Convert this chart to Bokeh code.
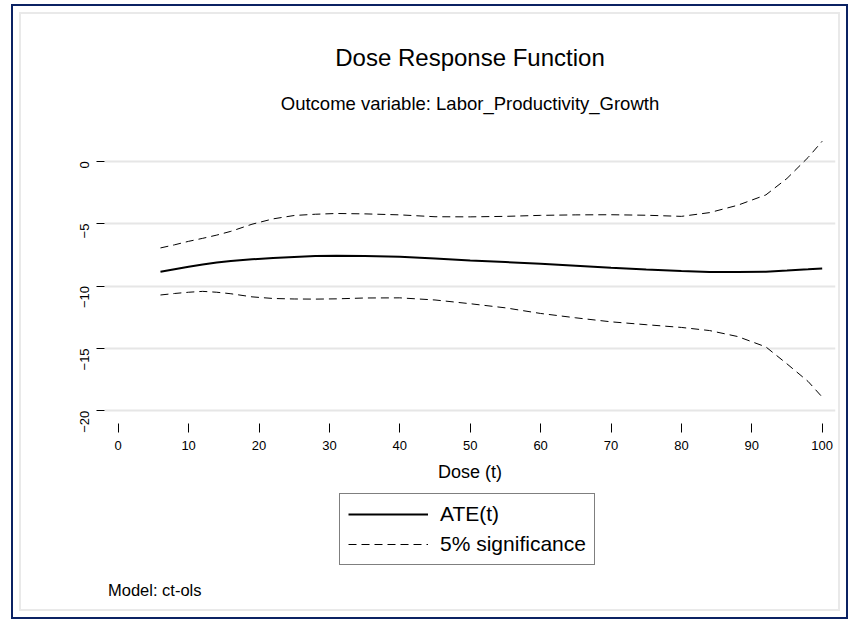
import math
from bokeh.plotting import figure
from bokeh.models import Range1d, Legend, LegendItem, FixedTicker, Label
from bokeh.embed import file_html
from bokeh.resources import INLINE

# ---- data ----
dose = [6, 8, 10, 12, 14, 16, 19, 22, 25, 28, 31, 35, 40, 45, 50, 55, 60, 65, 70, 75, 80, 84, 88, 92, 95, 98, 100]
ate = [-8.86, -8.65, -8.45, -8.27, -8.12, -8.00, -7.86, -7.75, -7.67, -7.60, -7.58, -7.60, -7.66, -7.80, -7.96,
       -8.08, -8.22, -8.38, -8.54, -8.68, -8.80, -8.87, -8.88, -8.85, -8.76, -8.66, -8.59]
upper = [-6.95, -6.70, -6.42, -6.18, -5.92, -5.62, -5.05, -4.62, -4.35, -4.25, -4.19, -4.22, -4.30, -4.45, -4.46,
         -4.42, -4.34, -4.30, -4.29, -4.33, -4.42, -4.12, -3.53, -2.70, -1.38, 0.30, 1.60]
lower = [-10.72, -10.60, -10.50, -10.43, -10.50, -10.62, -10.87, -11.00, -11.04, -11.05, -11.03, -10.96, -10.95,
         -11.12, -11.42, -11.75, -12.20, -12.55, -12.87, -13.10, -13.32, -13.57, -14.05, -14.88, -16.24, -17.65, -18.90]
x_ticks = [0, 10, 20, 30, 40, 50, 60, 70, 80, 90, 100]
y_ticks = [-20, -15, -10, -5, 0]

title_text = "Dose Response Function"
subtitle_text = "Outcome variable: Labor_Productivity_Growth"
x_label = "Dose (t)"
legend_labels = ["ATE(t)", "5% significance"]
note_text = "Model: ct-ols"

FONT = "Liberation Sans"
W, H = 837, 615

p = figure(width=W, height=H,
           x_range=Range1d(-1.95, 101.89), y_range=Range1d(-36.883, 12.396),
           output_backend="svg", toolbar_location=None,
           min_border_left=91, min_border_right=15, min_border_top=0, min_border_bottom=0,
           background_fill_alpha=0, border_fill_alpha=0, outline_line_color=None,
           styles={"position": "absolute", "left": "11px", "top": "4px", "overflow": "hidden",
                   "border": "2px solid #0b2263", "background-color": "white",
                   "box-shadow": "inset 0 0 0 6px white, inset 0 0 0 8px #e9e9e9"})

# axes (x axis pinned at the bottom of the plot region)
p.xaxis.ticker = FixedTicker(ticks=x_ticks)
p.yaxis.ticker = FixedTicker(ticks=y_ticks)
p.xaxis.fixed_location = -21.018
for ax in (p.xaxis[0], p.yaxis[0]):
    ax.axis_line_color = None
    ax.major_tick_line_color = "black"
    ax.major_tick_line_width = 1
    ax.major_tick_in = 0
    ax.minor_tick_line_color = None
    ax.major_label_text_font = FONT
    ax.major_label_text_font_size = "13px"
    ax.major_label_text_color = "black"
p.xaxis.major_tick_out = 9
p.xaxis.major_label_standoff = 8
p.xaxis.axis_label = x_label
p.xaxis.axis_label_text_font = FONT
p.xaxis.axis_label_text_font_size = "18px"
p.xaxis.axis_label_text_font_style = "normal"
p.xaxis.axis_label_text_color = "black"
p.xaxis.axis_label_standoff = 9
p.yaxis.major_tick_out = 8
p.yaxis.major_label_standoff = 12
p.yaxis.major_label_orientation = math.pi / 2

p.xgrid.visible = False
p.ygrid.ticker = FixedTicker(ticks=y_ticks)
p.ygrid.grid_line_color = "#e6e6e6"
p.ygrid.grid_line_width = 2

# series
r_ate = p.line(dose, ate, line_color="black", line_width=2)
r_up = p.line(dose, upper, line_color="black", line_width=1, line_dash="8 5")
r_lo = p.line(dose, lower, line_color="black", line_width=1, line_dash="8 5")

legend = Legend(items=[LegendItem(label=legend_labels[0], renderers=[r_ate]),
                       LegendItem(label=legend_labels[1], renderers=[r_up])],
                location=(235, 56), orientation="vertical",
                glyph_width=80, glyph_height=24, label_height=24, label_standoff=12,
                padding=8, spacing=6, margin=0,
                label_text_font=FONT, label_text_font_size="21px", label_text_color="black",
                border_line_color="black", border_line_width=1,
                background_fill_color="white", background_fill_alpha=1.0)
p.add_layout(legend)

# title, subtitle and note (screen units from the plot region's bottom-left corner)
p.add_layout(Label(x=365.5, y=564.3, x_units="screen", y_units="screen", text=title_text,
                   text_align="center", text_baseline="alphabetic",
                   text_font=FONT, text_font_size="24px", text_color="black"))
p.add_layout(Label(x=365.5, y=518, x_units="screen", y_units="screen", text=subtitle_text,
                   text_align="center", text_baseline="alphabetic",
                   text_font=FONT, text_font_size="18.5px", text_color="black"))
p.add_layout(Label(x=3.5, y=31.3, x_units="screen", y_units="screen", text=note_text,
                   text_align="left", text_baseline="alphabetic",
                   text_font=FONT, text_font_size="16.5px", text_color="black"))

open("out.html", "w").write(file_html(p, INLINE))
